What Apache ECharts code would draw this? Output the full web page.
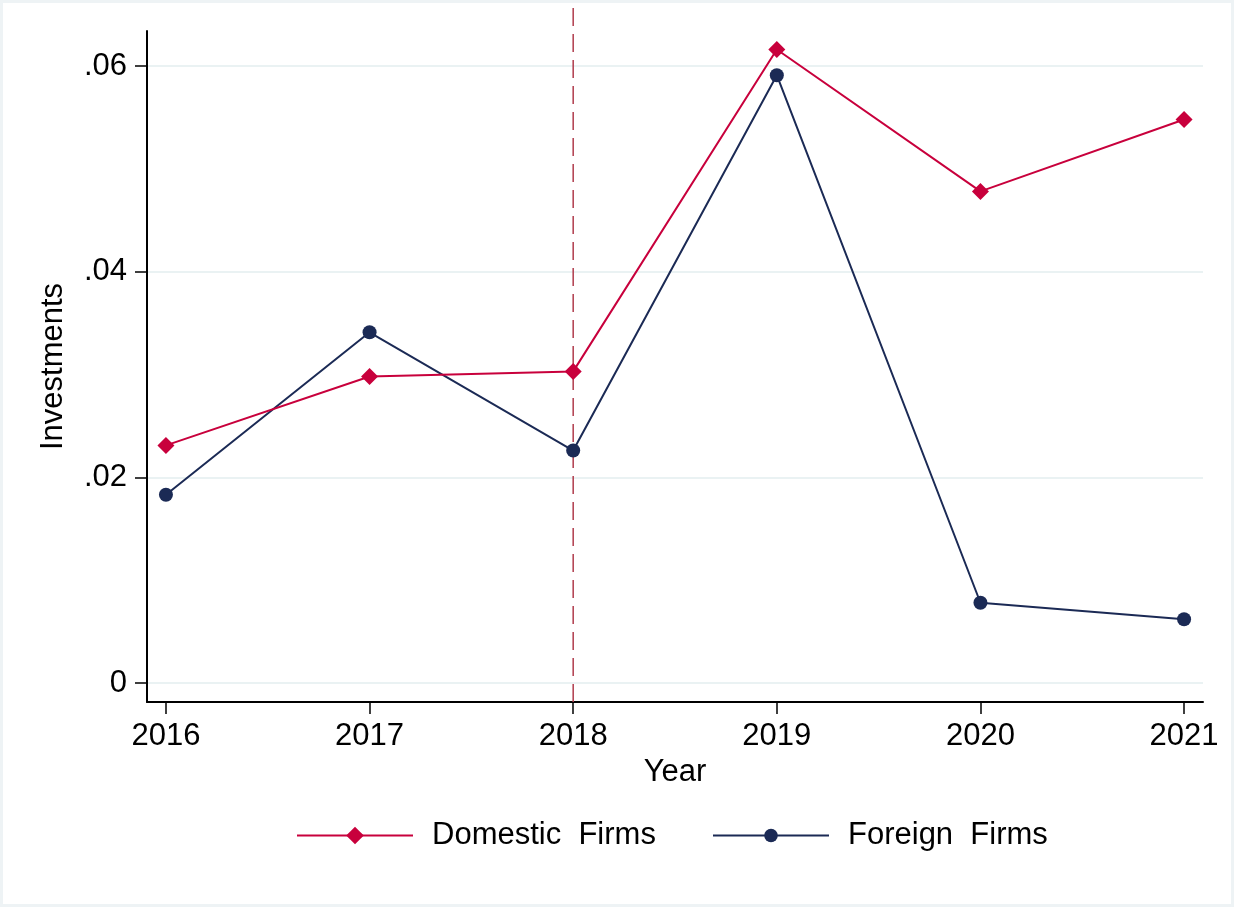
<!DOCTYPE html>
<html>
<head>
<meta charset="utf-8">
<script src="https://cdn.jsdelivr.net/npm/echarts@6/dist/echarts.min.js"></script>
<style>
  html, body { margin: 0; padding: 0; background: #fff; }
  #chart { position: absolute; left: 0; top: 0; width: 1234px; height: 907px; }
  #frame { position: absolute; left: 0; top: 0; width: 1234px; height: 907px;
           box-sizing: border-box; border: 3px solid #eef3f5; pointer-events: none; }
</style>
</head>
<body>
<div id="chart"></div>
<div id="frame"></div>
<script>
// data
var years = [2016, 2017, 2018, 2019, 2020, 2021]
var domestic = [0.0231, 0.0298, 0.0303, 0.0616, 0.0478, 0.0548]
var foreign = [0.0183, 0.0341, 0.0226, 0.0591, 0.0078, 0.0062]
var yTicks = [0, 0.02, 0.04, 0.06]
var cutYear = 2018
var cutSpan = [-0.00185, 0.0666]   // dashed line runs from the x axis to the top edge

var font = '"Liberation Sans", Arial, sans-serif'
var fs = 31

function pairs(vals) {
  return years.map(function (y, i) { return [y, vals[i]] })
}

var chart = echarts.init(document.getElementById('chart'), null, { renderer: 'canvas' })

var legendText = { fontFamily: font, fontSize: fs, color: '#000', padding: [0, 0, 0, 14] }

var option = {
  animation: false,
  backgroundColor: '#fff',
  textStyle: { fontFamily: font },
  grid: { left: 147, right: 31, top: 31, bottom: 205, containLabel: false },
  legend: [
    {
      left: 291, top: 815, itemWidth: 116, itemHeight: 22,
      textStyle: legendText, data: ['Domestic  Firms']
    },
    {
      left: 707, top: 815, itemWidth: 116, itemHeight: 17,
      textStyle: legendText, data: ['Foreign  Firms']
    }
  ],
  xAxis: {
    type: 'value',
    min: 2015.907,
    max: 2021.093,
    name: 'Year',
    nameLocation: 'middle',
    nameGap: 53,
    nameTextStyle: { fontFamily: font, fontSize: fs, color: '#000' },
    axisLine: { show: true, onZero: false, lineStyle: { color: '#000', width: 2 } },
    axisTick: { show: true, length: 12, customValues: years, lineStyle: { color: '#000', width: 1.5 } },
    axisLabel: {
      customValues: years, margin: 19, fontFamily: font, fontSize: fs, color: '#000',
      formatter: function (v) { return String(v) }
    },
    splitLine: { show: false }
  },
  yAxis: {
    type: 'value',
    min: -0.00185,
    max: 0.0634,
    name: 'Investments',
    nameLocation: 'middle',
    nameRotate: 90,
    nameGap: 78,
    nameTextStyle: { fontFamily: font, fontSize: fs, color: '#000' },
    axisLine: { show: true, onZero: false, lineStyle: { color: '#000', width: 2 } },
    axisTick: { show: true, length: 12, customValues: yTicks, lineStyle: { color: '#000', width: 1.5 } },
    axisLabel: {
      customValues: yTicks, margin: 20, fontFamily: font, fontSize: fs, color: '#000',
      formatter: function (v) { return v === 0 ? '0' : String(v).replace('0.', '.') }
    },
    splitLine: { show: true, lineStyle: { color: '#eaf2f3', width: 2 } }
  },
  series: [
    {
      name: '2018 cut',
      type: 'line',
      data: [[cutYear, cutSpan[0]], [cutYear, cutSpan[1]]],
      symbol: 'none',
      clip: false,
      silent: true,
      lineStyle: { color: '#b03c4c', type: [18, 8], width: 1.5 },
      z: 1
    },
    {
      name: 'Domestic  Firms',
      type: 'line',
      data: pairs(domestic),
      symbol: 'diamond',
      symbolSize: 17,
      color: '#c8003c',
      lineStyle: { width: 2 },
      itemStyle: { color: '#c8003c' },
      z: 3
    },
    {
      name: 'Foreign  Firms',
      type: 'line',
      data: pairs(foreign),
      symbol: 'circle',
      symbolSize: 14,
      color: '#1b2a55',
      lineStyle: { width: 2 },
      itemStyle: { color: '#1b2a55' },
      z: 2
    }
  ]
}

chart.setOption(option)
</script>
</body>
</html>
